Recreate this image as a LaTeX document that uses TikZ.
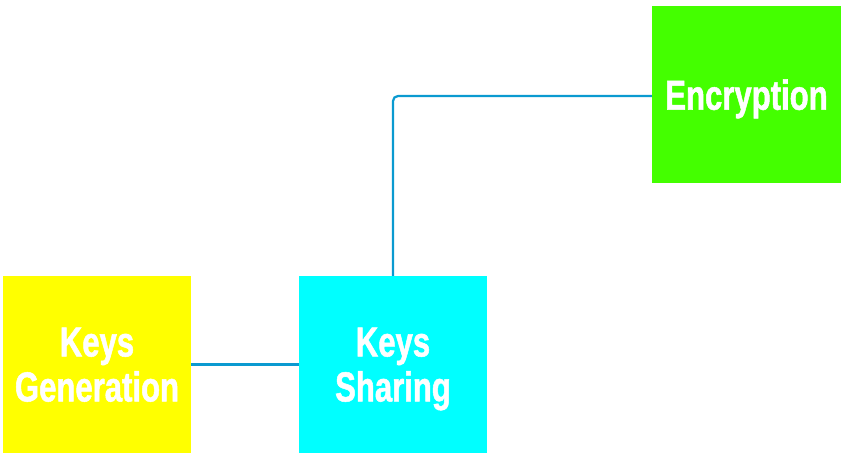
\documentclass[tikz,border=0pt]{standalone}
\usepackage{fontspec}
\setmainfont{Liberation Sans}[FakeStretch=0.74, BoldFeatures={FakeBold=1.2}]
\usepackage{xcolor}
\definecolor{genyellow}{HTML}{FFFF00}
\definecolor{sharecyan}{HTML}{00FFFF}
\definecolor{encgreen}{HTML}{44FF00}
\definecolor{linkblue}{HTML}{0A9AD0}

\begin{document}
\begin{tikzpicture}[x=1pt, y=-1pt,
      stage/.style={minimum width=188pt, minimum height=177pt, inner sep=0pt,
        align=center, text=white, text depth=0pt,
        font=\fontsize{42}{45}\selectfont\bfseries},
      link/.style={draw=linkblue, line width=2.2pt, rounded corners=5pt}]
      \useasboundingbox (0,0) rectangle (848,456);
      \node[stage, fill=genyellow] (gen) at (97,364.5) {Keys\\Generation};
      \node[stage, fill=sharecyan] (share) at (393,364.5) {Keys\\Sharing};
      \node[stage, fill=encgreen, minimum width=189pt] (enc) at (746.5,94.5) {Encryption};
      \draw[link] (gen) -- (share);
      \draw[link] (share.north) |- ([yshift=-1.5pt]enc.west);
    \end{tikzpicture}
\end{document}
